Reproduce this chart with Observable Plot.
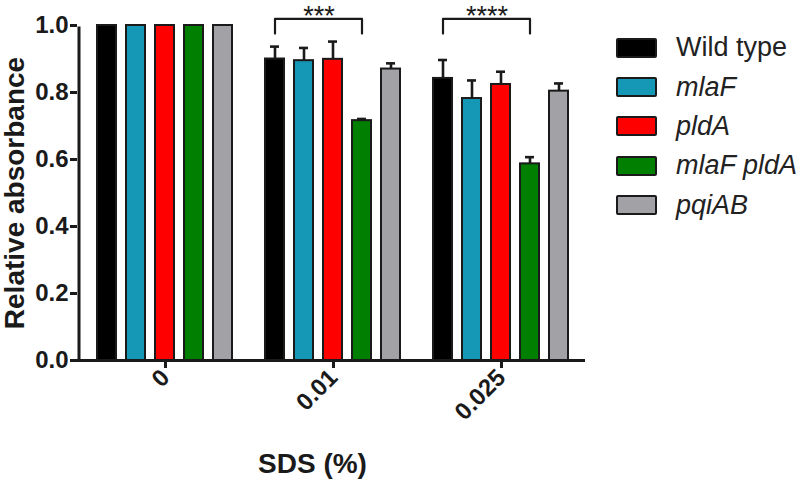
<!DOCTYPE html>
<html>
<head>
<meta charset="utf-8">
<script src="https://cdn.jsdelivr.net/npm/d3@7"></script>
<script src="https://cdn.jsdelivr.net/npm/@observablehq/plot@0.6"></script>
<style>
  html, body { margin: 0; padding: 0; background: #fff; }
  #wrap { position: relative; width: 800px; height: 482px; font-family: "Liberation Sans", Arial, sans-serif; color: #222; }
  #legend { position: absolute; left: 616px; top: 28px; }
  .row { display: flex; align-items: center; height: 39.4px; }
  .sw { width: 37px; height: 16px; border: 2px solid #1a1a1a; border-radius: 2px; margin-right: 19px; box-sizing: content-box; }
  .lab { font-size: 27px; line-height: 27px; white-space: nowrap; }
</style>
</head>
<body>
<div id="wrap"><div id="chart"></div><div id="legend"></div></div>
<script>
// ---- data ----
const groups = ["0", "0.01", "0.025"];
const strains = ["Wild type", "mlaF", "pldA", "mlaF pldA", "pqiAB"];
const italicStrain = [false, true, true, true, true];
const colors = ["#000000", "#1498b5", "#ff0000", "#007f00", "#a2a2a6"];
const means_0 = [1.0, 1.0, 1.0, 1.0, 1.0];
const errs_0 = [0, 0, 0, 0, 0];
const means_001 = [0.900, 0.895, 0.899, 0.716, 0.870];
const errs_001 = [0.037, 0.038, 0.053, 0.005, 0.017];
const means_0025 = [0.842, 0.782, 0.824, 0.587, 0.804];
const errs_0025 = [0.055, 0.054, 0.038, 0.020, 0.023];
const sigGroups = ["0.01", "0.025"];
const sigLabels = ["***", "****"];
const bracketFrom = "Wild type";
const bracketTo = "mlaF pldA";
const bracketLow = 0.976;
const bracketTop = 1.020;
const yTicks = [0, 0.2, 0.4, 0.6, 0.8, 1.0];
const yLabel = "Relative absorbance";
const xLabel = "SDS (%)";

// ---- table ----
const meansByGroup = [means_0, means_001, means_0025];
const errsByGroup = [errs_0, errs_001, errs_0025];
const data = [];
groups.forEach((g, gi) => strains.forEach((s, si) => {
  data.push({group: g, strain: s, mean: meansByGroup[gi][si], err: errsByGroup[gi][si]});
}));
const errData = data.filter(d => d.err > 0);
const bracketData = [];
sigGroups.forEach(g => {
  bracketData.push({group: g, strain: bracketFrom, y: bracketLow});
  bracketData.push({group: g, strain: bracketFrom, y: bracketTop});
  bracketData.push({group: g, strain: bracketTo, y: bracketTop});
  bracketData.push({group: g, strain: bracketTo, y: bracketLow});
});
const sigData = sigGroups.map((g, i) => ({group: g, label: sigLabels[i], y: bracketTop}));
const axisAnchor = [{group: groups[0], strain: strains[0]}];

const ink = "#1a1a1a";
const chart = Plot.plot({
  width: 800,
  height: 482,
  marginLeft: 77,
  marginRight: 219,
  marginTop: 25,
  marginBottom: 122,
  style: {fontFamily: "'Liberation Sans', Arial, sans-serif", color: ink, background: "white"},
  fx: {domain: groups, paddingInner: 0, paddingOuter: 0, label: null},
  x: {domain: strains, paddingInner: 0.3333, paddingOuter: 0, insetLeft: 18, insetRight: 10, axis: null},
  y: {domain: [0, 1]},
  color: {domain: strains, range: colors},
  marks: [
    Plot.barY(data, {fx: "group", x: "strain", y: "mean", fill: "strain", stroke: ink, strokeWidth: 2}),
    Plot.ruleX(errData, {fx: "group", x: "strain", y1: "mean", y2: d => d.mean + d.err, stroke: ink, strokeWidth: 2.6}),
    Plot.tickY(errData, {fx: "group", x: "strain", y: d => d.mean + d.err, stroke: ink, strokeWidth: 2.6, insetLeft: 5, insetRight: 5}),
    Plot.line(bracketData, {fx: "group", x: "strain", y: "y", z: "group", stroke: ink, strokeWidth: 2.2, curve: "linear"}),
    Plot.text(sigData, {fx: "group", x: () => "mlaF", dx: 15, y: "y", text: "label", fontSize: 27, lineAnchor: "bottom", dy: 6.5, fill: ink}),
    Plot.ruleY([0], {stroke: ink, strokeWidth: 3, insetRight: -4}),
    Plot.ruleX(axisAnchor, {fx: "group", x: "strain", y1: 0, y2: 1, dx: -28, stroke: ink, strokeWidth: 3, insetBottom: -1.5}),
    Plot.axisY({ticks: yTicks, tickFormat: d3.format(".1f"), tickSize: 7, tickPadding: 2, strokeWidth: 3, fontSize: 24, fontWeight: "bold", label: null, fill: ink}),
    Plot.axisFx({anchor: "bottom", tickRotate: -45, tickSize: 8, tickPadding: 5, strokeWidth: 3, dx: 4, fontSize: 24, fontWeight: "bold", label: null, fill: ink}),
    Plot.text([yLabel], {facet: "super", frameAnchor: "left", textAnchor: "middle", rotate: -90, dx: -62, fontSize: 28, fontWeight: "bold", fill: ink}),
    Plot.text([xLabel], {facet: "super", frameAnchor: "bottom", dx: -17, dy: 112, fontSize: 28, fontWeight: "bold", fill: ink})
  ]
});
document.getElementById("chart").appendChild(chart);

// ---- legend ----
const legend = document.getElementById("legend");
strains.forEach((s, i) => {
  const row = document.createElement("div");
  row.className = "row";
  const sw = document.createElement("div");
  sw.className = "sw";
  sw.style.background = colors[i];
  const lab = document.createElement("div");
  lab.className = "lab";
  lab.textContent = s;
  if (italicStrain[i]) lab.style.fontStyle = "italic";
  row.appendChild(sw);
  row.appendChild(lab);
  legend.appendChild(row);
});
</script>
</body>
</html>
